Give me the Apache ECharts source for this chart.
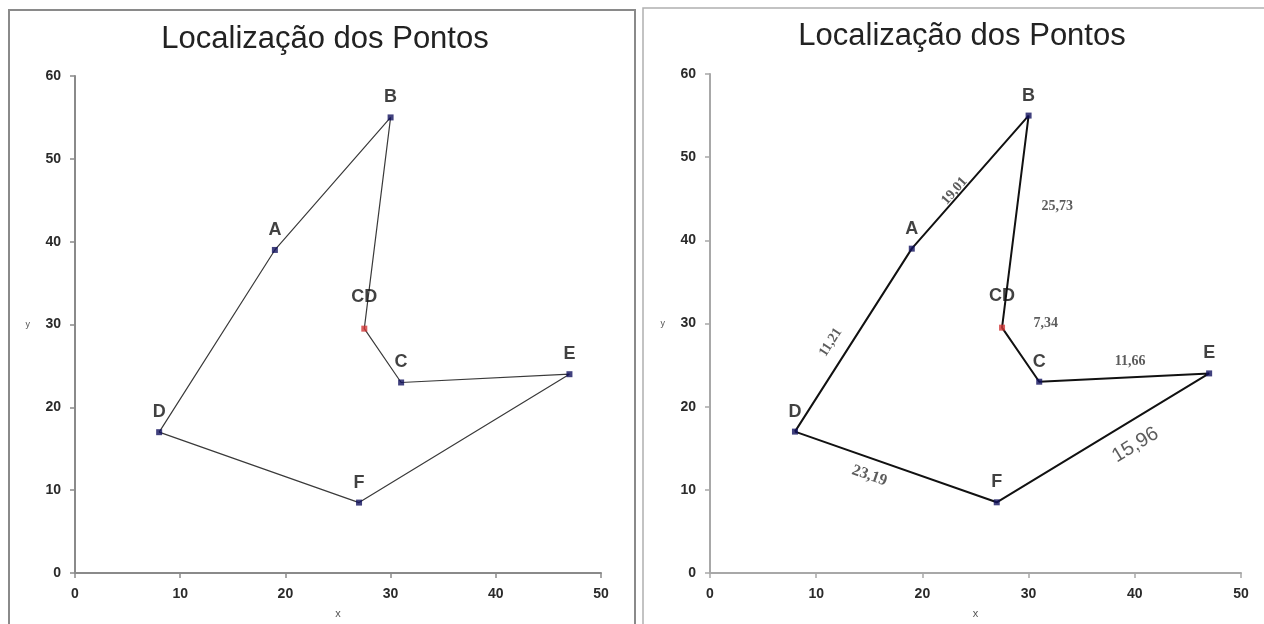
<!DOCTYPE html>
<html>
<head>
<meta charset="utf-8">
<script src="https://cdn.jsdelivr.net/npm/echarts@6/dist/echarts.min.js"></script>
<style>html,body{margin:0;padding:0;background:#fff}#main{width:1264px;height:624px}</style>
</head>
<body>
<div id="main"></div>
<script>
// ---- data ----
const titleText = 'Localização dos Pontos';
const pointNames = ['A', 'B', 'C', 'D', 'E', 'F', 'CD'];
const pointX = [19, 30, 31, 8, 47, 27, 27.5];
const pointY = [39, 55, 23, 17, 24, 8.5, 29.5];
const routeOrder = ['D', 'A', 'B', 'CD', 'C', 'E', 'F', 'D'];
const edgeFrom = ['A', 'B', 'D', 'CD', 'C', 'D', 'F'];
const edgeTo = ['B', 'CD', 'A', 'C', 'E', 'F', 'E'];
const edgeLabels = ['19,01', '25,73', '11,21', '7,34', '11,66', '23,19', '15,96'];
const xTicks = [0, 10, 20, 30, 40, 50];
const yTicks = [0, 10, 20, 30, 40, 50, 60];

// ---- styles ----
const edgeStyle = {
  '19,01': { offset: [-17, -6], along: true, size: 14 },
  '25,73': { offset: [42, -15], along: false, size: 14 },
  '11,21': { offset: [-14, -18], along: true, size: 14 },
  '7,34': { offset: [25, -31], along: false, size: 14 },
  '11,66': { offset: [6, -16], along: false, size: 14 },
  '23,19': { offset: [-22, 17], along: true, size: 16 },
  '15,96': { offset: [24, 23], along: true, big: true, size: 20 }
};

function idx(n) { return pointNames.indexOf(n); }
function pt(n) { const i = idx(n); return [pointX[i], pointY[i]]; }

const chart = echarts.init(document.getElementById('main'));
const grids = [
  { left: 75, top: 76, width: 526, height: 499 },
  { left: 710, top: 74, width: 531, height: 500 }
];

function xAxis(gi, col) {
  return {
    type: 'value', gridIndex: gi, min: 0, max: 50, interval: 10,
    name: 'x', nameLocation: 'middle', nameGap: 35,
    nameTextStyle: { fontSize: 11, color: '#555', fontFamily: 'Liberation Sans' },
    axisLine: { show: true, onZero: false, lineStyle: { color: col, width: 2 } },
    axisTick: { show: true, length: 5, lineStyle: { color: col, width: 1.5 } },
    axisLabel: { fontSize: 14, fontWeight: 'bold', color: '#2a2a2a', margin: 14, fontFamily: 'Liberation Sans' },
    splitLine: { show: false }
  };
}
function yAxis(gi, col) {
  return {
    type: 'value', gridIndex: gi, min: 0, max: 60, interval: 10,
    name: 'y', nameLocation: 'middle', nameGap: 45, nameRotate: 0,
    nameTextStyle: { fontSize: 9, color: '#555', fontFamily: 'Liberation Sans' },
    axisLine: { show: true, onZero: false, lineStyle: { color: col, width: 2 } },
    axisTick: { show: true, length: 5, lineStyle: { color: col, width: 1.5 } },
    axisLabel: { fontSize: 14, fontWeight: 'bold', color: '#2a2a2a', margin: 14, fontFamily: 'Liberation Sans' },
    splitLine: { show: false }
  };
}

function routeSeries(gi, color, width) {
  return {
    type: 'line', xAxisIndex: gi, yAxisIndex: gi, silent: true,
    showSymbol: false, symbol: 'none', animation: false,
    lineStyle: { color: color, width: width },
    data: routeOrder.map(pt), z: 2
  };
}
function pointSeries(gi) {
  return {
    type: 'scatter', xAxisIndex: gi, yAxisIndex: gi, symbol: 'rect', symbolSize: 6,
    animation: false, z: 3,
    data: pointNames.map((n, i) => ({
      value: [pointX[i], pointY[i]],
      itemStyle: { color: n === 'CD' ? '#d03535' : '#12125e' },
      label: {
        show: true, formatter: n, position: 'top', distance: n === 'CD' ? 20 : 8,
        fontSize: 18, fontWeight: 'bold', color: '#111', fontFamily: 'Liberation Sans'
      }
    }))
  };
}
function edgeSeries(gi, rotations) {
  return {
    type: 'scatter', xAxisIndex: gi, yAxisIndex: gi, symbolSize: 1, animation: false, z: 4,
    itemStyle: { color: 'rgba(0,0,0,0)' },
    data: edgeLabels.map((t, i) => {
      const a = pt(edgeFrom[i]), b = pt(edgeTo[i]);
      const st = edgeStyle[t];
      return {
        value: [(a[0] + b[0]) / 2, (a[1] + b[1]) / 2],
        label: {
          show: true, formatter: t, position: 'inside', offset: st.offset,
          rotate: st.along ? (rotations ? rotations[i] : 0) : 0,
          fontSize: st.size, fontWeight: st.big ? 'normal' : 'bold',
          fontFamily: st.big ? 'Liberation Sans' : 'Liberation Serif', color: '#333'
        }
      };
    })
  };
}

function build(rotations) {
  return {
    animation: false,
    title: [
      { text: titleText, left: 320, top: 19, textAlign: 'center',
        textStyle: { fontSize: 31, fontWeight: 'normal', color: '#222', fontFamily: 'Liberation Sans' } },
      { text: titleText, left: 957, top: 16, textAlign: 'center',
        textStyle: { fontSize: 31, fontWeight: 'normal', color: '#222', fontFamily: 'Liberation Sans' } }
    ],
    graphic: [
      { type: 'rect', shape: { x: 9, y: 10, width: 626, height: 640 }, style: { fill: 'none', stroke: '#8a8a8a', lineWidth: 2 }, silent: true },
      { type: 'rect', shape: { x: 643, y: 8, width: 660, height: 640 }, style: { fill: 'none', stroke: '#b0b0b0', lineWidth: 1.5 }, silent: true }
    ],
    grid: grids,
    xAxis: [xAxis(0, '#8a8a8a'), xAxis(1, '#a8a8a8')],
    yAxis: [yAxis(0, '#8a8a8a'), yAxis(1, '#a8a8a8')],
    series: [
      routeSeries(0, '#3a3a3a', 1.2),
      pointSeries(0),
      routeSeries(1, '#111', 2),
      pointSeries(1),
      edgeSeries(1, rotations)
    ]
  };
}

chart.setOption(build(null));
const rotations = edgeLabels.map((t, i) => {
  const a = chart.convertToPixel({ gridIndex: 1 }, pt(edgeFrom[i]));
  const b = chart.convertToPixel({ gridIndex: 1 }, pt(edgeTo[i]));
  let ang = Math.atan2(-(b[1] - a[1]), b[0] - a[0]) * 180 / Math.PI;
  if (ang > 90) ang -= 180;
  if (ang < -90) ang += 180;
  return ang;
});
chart.setOption(build(rotations), true);
</script>
</body>
</html>
